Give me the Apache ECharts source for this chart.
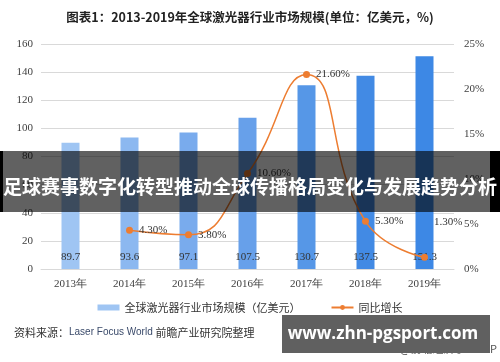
<!DOCTYPE html>
<html><head><meta charset="utf-8">
<script src="https://cdn.jsdelivr.net/npm/echarts@6/dist/echarts.min.js"></script>
<style>html,body{margin:0;padding:0;background:#fff}#c{width:500px;height:362px}</style>
</head><body><div id="c"></div>
<script>
const categories = ['2013年','2014年','2015年','2016年','2017年','2018年','2019年'];
const marketSize = [89.7, 93.6, 97.1, 107.5, 130.7, 137.5, 151.3];
const growth = [null, 4.3, 3.8, 10.6, 21.6, 5.3, 1.3];
const leftTicks = {min: 0, max: 160, interval: 20};
const rightTicks = {min: 0, max: 25, interval: 5};
const barColors = ['#9fc5f3','#8cb8f0','#79abed','#67a0ea','#5697e7','#428ae4','#3d88e5'];
const serif = '"Liberation Serif","DejaVu Serif",serif';
const sans = '"Noto Sans CJK SC","Noto Sans",sans-serif';

const chart = echarts.init(document.getElementById('c'), null, {renderer: 'canvas'});
chart.setOption({
  animation: false,
  title: {
    text: '图表1：2013-2019年全球激光器行业市场规模(单位：亿美元，%)',
    left: 'center', top: 6,
    textStyle: {fontFamily: sans, fontSize: 12.5, fontWeight: 'bold', color: '#222'}
  },
  grid: {left: 41, right: 46, top: 44, bottom: 93},
  legend: {
    bottom: 44, left: 'center', itemGap: 30, itemWidth: 22, itemHeight: 6,
    textStyle: {fontFamily: sans, fontSize: 11, color: '#333'},
    data: [
      {name: '全球激光器行业市场规模（亿美元）', icon: 'rect', itemStyle: {color: '#9fc5f3'}},
      {name: '同比增长'}
    ]
  },
  xAxis: {
    type: 'category', data: categories,
    axisLine: {lineStyle: {color: '#d9d9d9'}},
    axisTick: {show: false},
    axisLabel: {fontFamily: serif, fontSize: 11, color: '#404040', margin: 10}
  },
  yAxis: [
    {type: 'value', min: leftTicks.min, max: leftTicks.max, interval: leftTicks.interval,
     axisLine: {show: false}, axisTick: {show: false},
     splitLine: {lineStyle: {color: '#d9d9d9'}},
     axisLabel: {fontFamily: serif, fontSize: 11, color: '#404040', margin: 8}},
    {type: 'value', min: rightTicks.min, max: rightTicks.max, interval: rightTicks.interval,
     axisLine: {show: false}, axisTick: {show: false}, splitLine: {show: false},
     axisLabel: {fontFamily: serif, fontSize: 11, color: '#404040', margin: 10, formatter: '{value}%'}}
  ],
  series: [
    {
      name: '全球激光器行业市场规模（亿美元）', type: 'bar', barWidth: 18,
      data: marketSize.map((v, i) => ({value: v, itemStyle: {color: barColors[i]}})),
      label: {show: true, position: 'insideBottom', distance: 6,
              fontFamily: serif, fontSize: 11, color: '#333'}
    },
    {
      name: '同比增长', type: 'line', yAxisIndex: 1, smooth: true,
      symbol: 'circle', symbolSize: 7,
      itemStyle: {color: '#ed7d31'}, lineStyle: {color: '#ed7d31', width: 1.5},
      data: growth.map((v, i) => ({
        value: v,
        label: i === 6 ? {offset: [0, -35]} : undefined
      })),
      label: {show: true, position: 'right', distance: 6,
              fontFamily: serif, fontSize: 11, color: '#333',
              formatter: p => p.value == null ? '' : p.value.toFixed(2) + '%'}
    }
  ],
  graphic: [
    {type: 'text', left: 14, top: 327, z: 100,
     style: {text: '{a|资料来源：}{b|Laser Focus World }{a|前瞻产业研究院整理}',
             rich: {
               a: {fontFamily: sans, fontSize: 11, fill: '#333', color: '#333'},
               b: {fontFamily: '"Liberation Sans",Arial,sans-serif', fontSize: 10, fill: '#3a4a6a', color: '#3a4a6a'}
             }}},
    {type: 'text', right: 3, top: 343, z: 100,
     style: {text: '@前瞻经济学人APP', font: '11px ' + sans, fill: '#555'}},
    {type: 'rect', z: 100, shape: {x: 0, y: 151, width: 500, height: 61},
     style: {fill: 'rgba(0,0,0,0.62)'}},
    {type: 'rect', z: 100, shape: {x: 0, y: 151, width: 3, height: 61}, style: {fill: '#000'}},
    {type: 'rect', z: 100, shape: {x: 490, y: 151, width: 10, height: 61}, style: {fill: '#000'}},
    {type: 'text', z: 101, x: 250, y: 187,
     style: {text: '足球赛事数字化转型推动全球传播格局变化与发展趋势分析',
             font: 'bold 19px ' + sans, fill: '#fff', align: 'center', verticalAlign: 'middle'}},
    {type: 'rect', z: 100, shape: {x: 282, y: 315, width: 208, height: 38}, style: {fill: '#606060'}},
    {type: 'text', z: 101, x: 383, y: 334,
     style: {text: 'www.zhn-pgsport.com', font: 'bold 17px "Open Sans","DejaVu Sans",sans-serif',
             fill: '#fff', align: 'center', verticalAlign: 'middle'}}
  ]
});
</script></body></html>
